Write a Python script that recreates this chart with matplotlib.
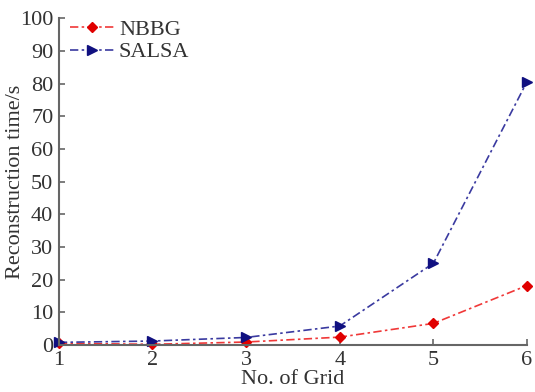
import matplotlib
matplotlib.use("Agg")
import matplotlib.pyplot as plt

grid = [1, 2, 3, 4, 5, 6]
nbbg = [0.5, 0.2, 0.9, 2.4, 6.6, 18.2]
salsa = [0.8, 1.2, 2.3, 5.8, 25.0, 80.6]
yticks = [0, 10, 20, 30, 40, 50, 60, 70, 80, 90, 100]

plt.rcParams['font.family'] = ['Liberation Serif', 'DejaVu Serif']
txt = '#333333'
fs = 16

fig = plt.figure(figsize=(5.35, 3.92), dpi=100)
ax = fig.add_axes([0.110, 0.120, 0.875, 0.833])

dash = (5, 2, 1.5, 2)
l1, = ax.plot(grid, nbbg, color='#f03838', lw=1.2, dashes=dash,
        marker='D', markersize=5.5, markerfacecolor='#e00000', markeredgecolor='#e00000',
        label='NBBG')
l2, = ax.plot(grid, salsa, color='#3a3aa0', lw=1.2, dashes=dash,
        marker='>', markersize=7.5, markerfacecolor='#101080', markeredgecolor='#101080',
        label='SALSA')
for l in (l1, l2):
    l.set_clip_on(False)

ax.set_xlim(1, 6)
ax.set_ylim(0, 100)
ax.set_xticks(grid)
ax.set_yticks(yticks)
for s in ['top', 'right']:
    ax.spines[s].set_visible(False)
for s in ['left', 'bottom']:
    ax.spines[s].set_color('#666666')
    ax.spines[s].set_linewidth(1.5)
ax.tick_params(direction='in', length=4, width=1.2, color='#666666',
               labelsize=fs, labelcolor=txt, pad=4)
ax.set_xlabel('No. of Grid', fontsize=fs, color=txt, labelpad=0)
ax.set_ylabel('Reconstruction time/s', fontsize=fs, color=txt)
ax.yaxis.set_label_coords(-0.072, 0.5)

leg = ax.legend(loc='upper left', frameon=False, fontsize=fs, handlelength=2.0,
                handletextpad=0.2, borderaxespad=0.0, labelspacing=0.1,
                bbox_to_anchor=(0.005, 1.025))
for t in leg.get_texts():
    t.set_color(txt)

fig.savefig('out.png', dpi=100)
